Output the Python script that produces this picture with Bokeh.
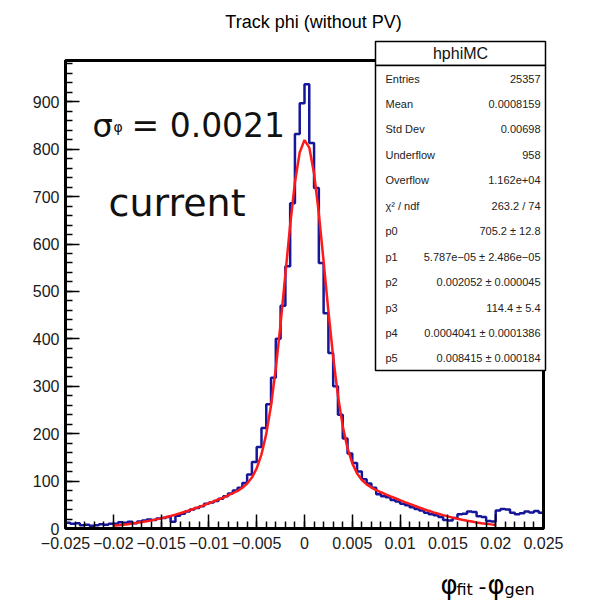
import numpy as np
from bokeh.plotting import figure
from bokeh.models import Range1d, FixedTicker, Label, BoxAnnotation, LinearAxis
from bokeh.embed import file_html
from bokeh.resources import INLINE

# ---------------- data ----------------
x_min, x_max, n_bins = -0.025, 0.025, 100
y_top = 987
counts = [
    12, 10, 11, 7, 8, 6, 7, 9, 8, 10,
    10, 13, 12, 14, 11, 15, 17, 19, 18, 21,
    22, 24, 14, 27, 31, 36, 40, 43, 47, 52,
    55, 58, 63, 68, 74, 80, 86, 96, 114, 140,
    172, 212, 262, 318, 400, 470, 553, 686, 832, 897,
    937, 813, 718, 560, 454, 370, 300, 240, 190, 158,
    138, 120, 104, 95, 86, 72, 68, 66, 60, 57,
    52, 49, 45, 41, 38, 33, 30, 28, 24, 18,
    17, 22, 30, 31, 36, 35, 26, 24, 16, 15,
    38, 41, 40, 33, 30, 32, 36, 34, 37, 33,
]
fit_range = (-0.02, 0.02)
fit_values = [
    6.0, 7.0, 8.0, 9.2, 10.5, 11.9, 13.5, 15.2, 17.1, 19.2,
    21.4, 23.8, 26.4, 29.2, 32.2, 35.3, 38.6, 42.1, 45.6, 49.4,
    53.3, 57.1, 61.2, 65.2, 69.8, 74.4, 79.4, 85.9, 94.7, 107.4,
    126.9, 156.3, 199.6, 259.5, 337.7, 432.1, 536.3, 640.1, 730.3, 793.3,
    819.2,
    803.4, 748.8, 664.3, 563.0, 458.2, 361.4, 279.6, 215.8, 169.3, 137.4,
    116.2, 102.3, 93.1, 86.4, 81.1, 76.4, 72.1, 67.9, 63.8, 59.7,
    55.7, 51.8, 48.0, 44.3, 40.7, 37.3, 34.1, 31.0, 28.2, 25.5,
    22.9, 20.6, 18.4, 16.4, 14.6, 12.8, 11.3, 9.9, 8.7, 7.6,
]
x_ticks = [-0.025, -0.02, -0.015, -0.01, -0.005, 0.0, 0.005, 0.01, 0.015, 0.02, 0.025]
x_tick_labels = ["\u22120.025", "\u22120.02", "\u22120.015", "\u22120.01", "\u22120.005", "0",
                 "0.005", "0.01", "0.015", "0.02", "0.025"]
y_ticks = [0, 100, 200, 300, 400, 500, 600, 700, 800, 900]
y_tick_labels = ["0", "100", "200", "300", "400", "500", "600", "700", "800", "900"]

title_text = "Track phi (without PV)"
stats_title = "hphiMC"
stat_names = ["Entries", "Mean", "Std Dev", "Underflow", "Overflow", "\u03c7\u00b2 / ndf",
              "p0", "p1", "p2", "p3", "p4", "p5"]
stat_values = ["25357", "0.0008159", "0.00698", "958", "1.162e+04", "263.2 / 74",
               "705.2 \u00b1 12.8", "5.787e\u221205 \u00b1 2.486e\u221205",
               "0.002052 \u00b1 0.000045", "114.4 \u00b1 5.4",
               "0.0004041 \u00b1 0.0001386", "0.008415 \u00b1 0.000184"]

# ---------------- layout geometry (pixels) ----------------
W, H = 593, 605
FR_L, FR_R, FR_T, FR_B = 65, 543, 60, 528   # ROOT frame in canvas pixels
kx = (x_max - x_min) / (FR_R - FR_L)
ky = y_top / (FR_B - FR_T)
xr = Range1d(x_min - FR_L * kx, x_max + (W - FR_R) * kx)
yr = Range1d(-(H - FR_B) * ky, y_top + FR_T * ky)


def sx(X):
    return X


def sy(Y):
    return H - Y


p = figure(width=W, height=H, output_backend="svg", toolbar_location=None,
           x_range=xr, y_range=yr, x_axis_type=None, y_axis_type=None,
           min_border=0, min_border_left=0, min_border_right=0,
           min_border_top=0, min_border_bottom=0)
p.background_fill_color = "white"
p.border_fill_color = "white"
p.outline_line_color = None

# histogram
edges = np.linspace(x_min, x_max, n_bins + 1)
step_x = list(edges)
step_y = list(counts) + [counts[-1]]
p.step(x=step_x, y=step_y, mode="after", line_color="#16169a", line_width=2.5)

# fit
fit_x = np.linspace(fit_range[0], fit_range[1], len(fit_values))
p.line(x=fit_x, y=fit_values, line_color="#ff1a1a", line_width=2.5)

# ROOT frame
p.quad(left=[x_min], right=[x_max], bottom=[0], top=[y_top], fill_color=None,
       line_color="black", line_width=3)

# axes
x_minor = [round(v, 4) for v in np.arange(-0.025, 0.02501, 0.001)]
y_minor = list(range(0, 981, 20))
xaxis = LinearAxis(fixed_location=0, bounds=(x_min, x_max),
                   ticker=FixedTicker(ticks=x_ticks, minor_ticks=x_minor),
                   major_label_overrides=dict(zip(x_ticks, x_tick_labels)))
yaxis = LinearAxis(fixed_location=x_min, bounds=(0, y_top),
                   ticker=FixedTicker(ticks=y_ticks, minor_ticks=y_minor),
                   major_label_overrides=dict(zip(y_ticks, y_tick_labels)))
for ax in (xaxis, yaxis):
    ax.axis_line_color = "black"
    ax.axis_line_width = 3
    ax.major_tick_in = 14
    ax.major_tick_out = 0
    ax.minor_tick_in = 7
    ax.minor_tick_out = 0
    ax.major_tick_line_width = 1.5
    ax.minor_tick_line_width = 1.5
    ax.major_tick_line_color = "black"
    ax.minor_tick_line_color = "black"
    ax.major_label_text_font = "Liberation Sans"
    ax.major_label_text_font_size = "16px"
    ax.major_label_text_color = "#1a1a1a"
xaxis.major_label_standoff = 8
yaxis.major_label_standoff = 6
p.add_layout(xaxis, "below")
p.add_layout(yaxis, "left")

# title
p.add_layout(Label(x=sx(313), y=sy(21), x_units="screen", y_units="screen", text=title_text,
                   text_font="Liberation Sans", text_font_size="18px", text_align="center",
                   text_baseline="middle", text_color="black"))

# sigma annotation
p.add_layout(Label(x=sx(92), y=sy(125), x_units="screen", y_units="screen", text="\u03c3",
                   text_font="DejaVu Sans", text_font_size="32px", text_baseline="alphabetic",
                   text_color="#111111"))
p.add_layout(Label(x=sx(113), y=sy(126), x_units="screen", y_units="screen", text="\u03c6",
                   text_font="DejaVu Sans", text_font_size="14px", text_baseline="alphabetic",
                   text_color="#111111"))
p.add_layout(Label(x=sx(131), y=sy(125), x_units="screen", y_units="screen", text="= 0.0021",
                   text_font="DejaVu Sans", text_font_size="33px", text_baseline="alphabetic",
                   text_color="#111111"))
p.add_layout(Label(x=sx(108), y=sy(202), x_units="screen", y_units="screen", text="current",
                   text_font="DejaVu Sans", text_font_size="38px", text_baseline="alphabetic",
                   text_color="#111111"))

# x axis title  (phi_fit - phi_gen)
for X, Y, txt, size in [(440, 584, "\u03c6", "26px"), (456, 589, "fit", "16px"),
                        (478, 585, "-", "22px"), (487, 584, "\u03c6", "26px"),
                        (504, 589, "gen", "16px")]:
    p.add_layout(Label(x=sx(X), y=sy(Y), x_units="screen", y_units="screen", text=txt,
                       text_font="DejaVu Sans", text_font_size=size, text_baseline="alphabetic",
                       text_color="black"))

# stats box
box_l, box_r, box_t, box_sep, box_b = 375, 545, 41, 65, 370
for top, bottom in [(box_t, box_sep), (box_sep, box_b)]:
    p.add_layout(BoxAnnotation(left=sx(box_l), right=sx(box_r), top=sy(top), bottom=sy(bottom),
                               left_units="screen", right_units="screen", top_units="screen",
                               bottom_units="screen", fill_color="white", fill_alpha=1.0,
                               line_color="black", line_width=1.5, line_alpha=1.0))
p.add_layout(Label(x=sx((box_l + box_r) / 2), y=sy(53), x_units="screen", y_units="screen",
                   text=stats_title, text_font="Liberation Sans", text_font_size="16px",
                   text_align="center", text_baseline="middle", text_color="#111111"))
for i, (nm, val) in enumerate(zip(stat_names, stat_values)):
    Y = 78 + 25.45 * i
    p.add_layout(Label(x=sx(385), y=sy(Y), x_units="screen", y_units="screen", text=nm,
                       text_font="Liberation Sans", text_font_size="11px",
                       text_baseline="middle", text_color="#222222"))
    p.add_layout(Label(x=sx(540), y=sy(Y), x_units="screen", y_units="screen", text=val,
                       text_font="Liberation Sans", text_font_size="11px", text_align="right",
                       text_baseline="middle", text_color="#222222"))

open("out.html", "w").write(file_html(p, INLINE))
